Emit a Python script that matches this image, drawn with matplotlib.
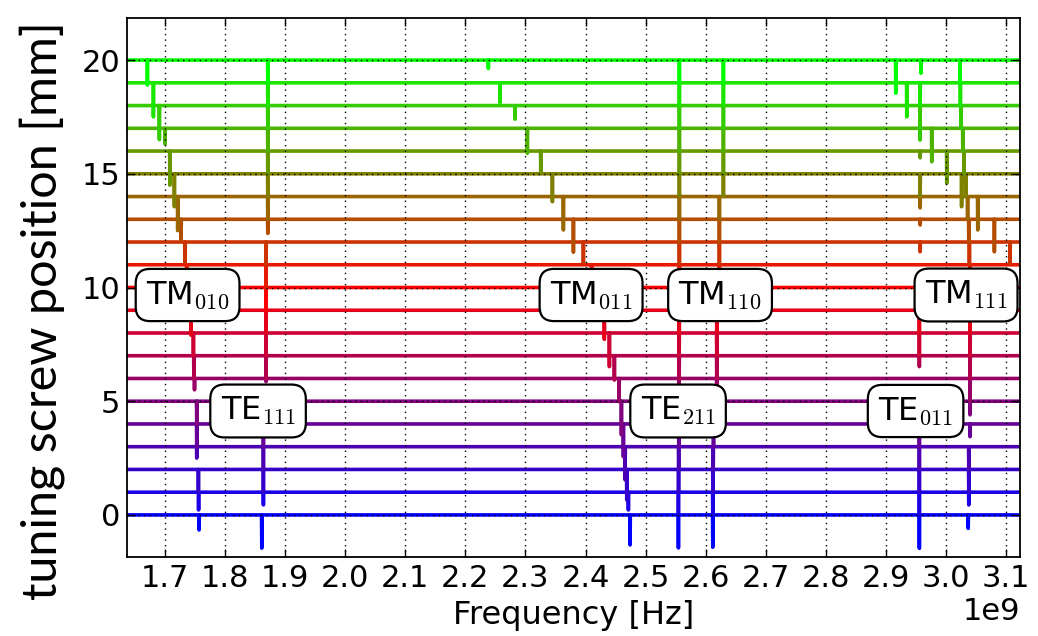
import matplotlib
matplotlib.use('Agg')
import matplotlib.pyplot as plt
import numpy as np
from matplotlib.ticker import MultipleLocator

# tuning screw positions [mm], one trace each
positions = list(range(21))

# for every resonance: dip frequency [GHz] and lowest point of the dip [mm]
# per screw position (index 0..20), None where no dip is visible
tm010_f = [1.7566, 1.7558, 1.7555, 1.7527, 1.7527, 1.7527, 1.7490, 1.7480, 1.7472, 1.7433, 1.7370,
           1.7360, 1.7333, 1.7266, 1.7210, 1.7155, 1.7080, 1.7000, 1.6905, 1.6806, 1.6706]
tm010_y = [-0.66, 0.22, 1.0, 2.5, 3.0, 4.0, 5.5, 6.0, 7.0, 7.9, 9.0,
           10.0, 11.1, 12.1, 12.5, 13.55, 14.5, 16.3, 16.5, 17.5, 18.9]

te111_f = [1.8610, 1.8637, 1.8637, 1.8637, 1.8637, 1.8637, 1.8681, 1.8681, 1.8681, 1.8681, 1.8681,
           1.8681, 1.8681, 1.8710, 1.8710, 1.8710, 1.8710, 1.8710, 1.8710, 1.8710, 1.8710]
te111_y = [-1.46, 0.44, 1.0, 2.0, 3.0, 4.0, 5.86, 6.0, 7.0, 8.0, 9.0,
           10.0, 11.0, 12.38, 13.0, 14.0, 15.0, 16.0, 17.0, 18.0, 19.0]

tm011_f = [2.4741, 2.4713, 2.4686, 2.4658, 2.4630, 2.4597, 2.4558, 2.4480, 2.4397, 2.4313, 2.4200,
           2.4100, 2.3964, 2.3798, 2.3631, 2.3448, 2.3254, 2.3031, 2.2827, 2.2577, 2.2382]
tm011_y = [-1.32, 0.22, 0.66, 1.54, 2.56, 3.52, 4.98, 5.93, 6.52, 7.72, 9.0,
           10.0, 11.06, 11.55, 12.53, 13.77, 15.09, 15.9, 17.4, 18.12, 19.63]

tm110_f = [2.5546, 2.5546, 2.5548, 2.5550, 2.5552, 2.5555, 2.5555, 2.5558, 2.5558, 2.5560, 2.5560,
           2.5562, 2.5562, 2.5562, 2.5562, 2.5562, 2.5562, 2.5562, 2.5562, 2.5562, 2.5562]
tm110_y = [-1.45, 0.0, 1.0, 2.0, 3.0, 4.0, 5.0, 6.0, 7.0, 8.0, 9.0,
           10.0, 11.0, 12.0, 13.0, 14.0, 15.0, 16.0, 17.0, 18.0, 19.0]

te211_f = [2.6118, 2.6118, 2.6120, 2.6125, 2.6130, 2.6184, 2.6184, 2.6184, 2.6184, 2.6184, 2.6200,
           2.6228, 2.6228, 2.6228, 2.6228, 2.6295, 2.6295, 2.6295, 2.6295, 2.6295, 2.6295]
te211_y = [-1.42, 0.0, 1.0, 2.0, 3.0, 4.0, 5.0, 6.0, 7.0, 8.0, 9.0,
           10.0, 11.0, 12.0, 13.0, 14.0, 15.0, 16.0, 17.0, 18.0, 19.0]

te011_f = [2.9557, 2.9557, 2.9557, 2.9557, 2.9557, 2.9557, None, 2.9557, 2.9557, 2.9557, 2.9557,
           None, 2.9570, 2.9570, 2.9570, 2.9570, 2.9570, None, None, 2.9570, 2.9585]
te011_y = [-1.47, 0.0, 1.0, 2.0, 3.0, 4.0, None, 6.52, 7.0, 8.0, 9.0,
           None, 11.57, 12.75, 13.5, 14.0, 15.7, None, None, 18.0, 19.42]

tm111_f = [3.0370, 3.0380, 3.0380, 3.0380, 3.0401, 3.0401, 3.0401, 3.0401, 3.0401, 3.0401, 3.0401,
           3.0400, 3.0390, 3.0380, 3.0360, 3.0330, 3.0300, 3.0280, 3.0250, 3.0240, 3.0234]
tm111_y = [-0.59, 0.44, 1.0, 2.0, 3.44, 4.4, 5.0, 6.0, 7.0, 8.0, 9.0,
           10.0, 11.0, 12.0, 13.0, 14.0, 15.0, 16.0, 17.0, 18.0, 19.0]

# weaker mode running across the upper right
extra_f = [None, None, None, None, None, None, None, None, None, None, None,
           None, 3.1067, 3.0806, 3.0529, 3.0260, 3.0013, 2.9763, 2.9568, 2.9347, 2.9164]
extra_y = [None, None, None, None, None, None, None, None, None, None, None,
           None, 11.06, 11.57, 12.53, 13.55, 14.58, 15.53, 16.48, 17.5, 18.54]

modes = [(tm010_f, tm010_y), (te111_f, te111_y), (tm011_f, tm011_y), (tm110_f, tm110_y),
         (te211_f, te211_y), (te011_f, te011_y), (tm111_f, tm111_y), (extra_f, extra_y)]

# mode labels and where they sit (GHz, mm)
labels = ['TM$_{010}$', 'TE$_{111}$', 'TM$_{011}$', 'TM$_{110}$', 'TE$_{211}$', 'TM$_{111}$', 'TE$_{011}$']
label_f = [1.7375, 1.8548, 2.4092, 2.6239, 2.5540, 3.0334, 2.9494]
label_y = [9.67, 4.57, 9.67, 9.67, 4.57, 9.67, 4.57]

f_start, f_stop = 1.6367, 3.1233

plt.rcParams['mathtext.fontset'] = 'cm'
plt.rcParams['font.family'] = 'DejaVu Sans'

def trace_colour(k):
    # blue -> red -> green over the 21 positions
    if k <= 10:
        return (k / 10.0, 0.0, 1.0 - k / 10.0)
    return ((20 - k) / 10.0, (k - 10) / 10.0, 0.0)

fig = plt.figure(figsize=(10.38, 6.36), dpi=100)
ax = fig.add_axes([0.1224, 0.1242, 0.8603, 0.8475])

half = 0.0004
for k in positions:
    dips = sorted((fl[k], yl[k]) for fl, yl in modes if fl[k] is not None)
    xs = [f_start]
    ys = [k]
    for f, bottom in dips:
        xs += [f - half, f, f + half]
        ys += [k, bottom, k]
    xs.append(f_stop)
    ys.append(k)
    ax.plot(np.array(xs) * 1e9, ys, color=trace_colour(k), lw=2.6,
            solid_joinstyle='round', solid_capstyle='round')

for txt, f, y in zip(labels, label_f, label_y):
    ax.text(f * 1e9, y, txt, fontsize=23, ha='center', va='center', zorder=5,
            bbox=dict(boxstyle='round,pad=0.32,rounding_size=0.45', fc='white', ec='black', lw=1.6))

ax.set_xlim(f_start * 1e9, f_stop * 1e9)
ax.set_ylim(-1.85, 21.85)
ax.xaxis.set_major_locator(MultipleLocator(1e8))
ax.yaxis.set_major_locator(MultipleLocator(5))
ax.set_axisbelow(False)
ax.grid(True, color='black', linestyle=(0, (1, 3)), lw=1.0)
ax.tick_params(direction='in', top=True, right=True, length=6, width=1, labelsize=22, pad=5)
for sp in ax.spines.values():
    sp.set_linewidth(1.3)
ax.xaxis.get_offset_text().set_fontsize(22)

ax.set_xlabel('Frequency [Hz]', fontsize=23, labelpad=5)
fig.text(0.0405, 0.512, 'tuning screw position [mm]', family='Lato', fontsize=35,
         rotation=90, ha='center', va='center')

fig.savefig('out.png', dpi=100)
